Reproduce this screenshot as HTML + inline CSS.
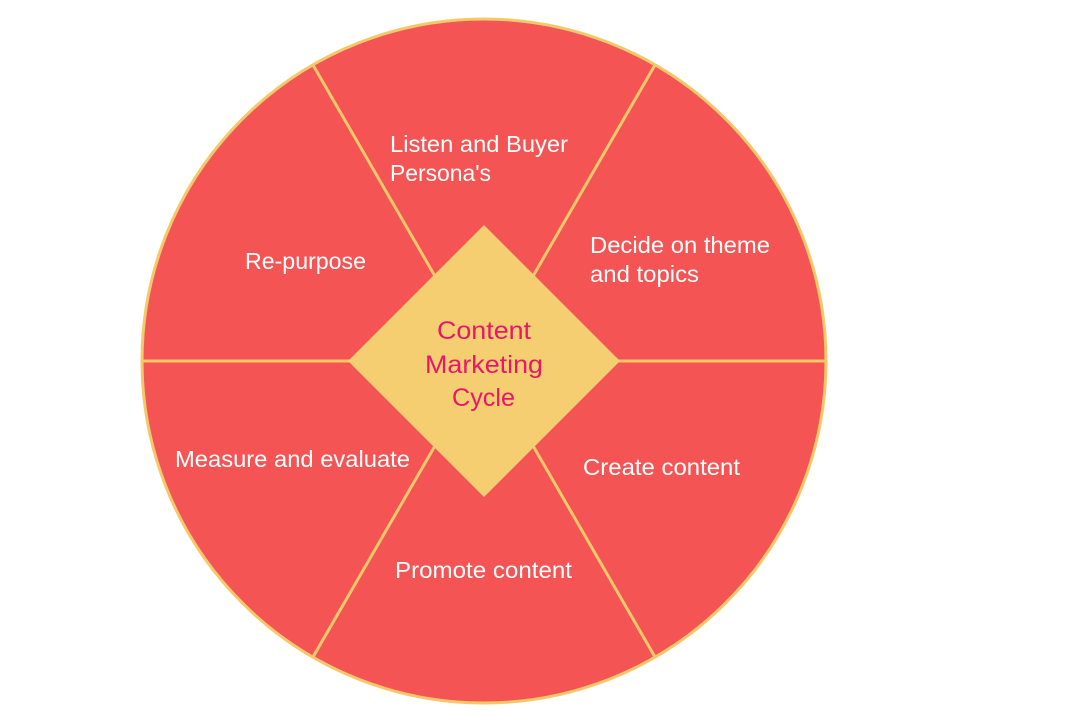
<!DOCTYPE html>
<html><head><meta charset="utf-8"><style>
html,body{margin:0;padding:0;background:#fff;}
svg{display:block;}
</style></head><body>
<svg width="1080" height="720" viewBox="0 0 1080 720" xmlns="http://www.w3.org/2000/svg" font-family="Liberation Sans, sans-serif">
<circle cx="484" cy="361" r="342" fill="#F45454" stroke="#F5C96A" stroke-width="3"/>
<g stroke="#F5C96A" stroke-width="3">
<line x1="142" y1="361" x2="826" y2="361"/>
<line x1="313" y1="65" x2="655" y2="657"/>
<line x1="655" y1="65" x2="313" y2="657"/>
</g>
<polygon points="484,225 620,361 484,497 348,361" fill="#F4CE70"/>
<g fill="#fff" font-size="23" lengthAdjust="spacingAndGlyphs">
<text x="390" y="152" textLength="178" lengthAdjust="spacingAndGlyphs">Listen and Buyer</text>
<text x="390" y="181" textLength="101" lengthAdjust="spacingAndGlyphs">Persona's</text>
<text x="590" y="253" textLength="180" lengthAdjust="spacingAndGlyphs">Decide on theme</text>
<text x="590" y="282" textLength="109" lengthAdjust="spacingAndGlyphs">and topics</text>
<text x="245" y="269" textLength="121" lengthAdjust="spacingAndGlyphs">Re-purpose</text>
<text x="175" y="467" textLength="235" lengthAdjust="spacingAndGlyphs">Measure and evaluate</text>
<text x="583" y="475" textLength="157" lengthAdjust="spacingAndGlyphs">Create content</text>
<text x="395" y="578" textLength="177" lengthAdjust="spacingAndGlyphs">Promote content</text>
</g>
<g fill="#E8176A" font-size="25">
<text x="437" y="339" textLength="94" lengthAdjust="spacingAndGlyphs">Content</text>
<text x="425" y="373" textLength="118" lengthAdjust="spacingAndGlyphs">Marketing</text>
<text x="452" y="406" textLength="63" lengthAdjust="spacingAndGlyphs">Cycle</text>
</g>
</svg>
</body></html>
